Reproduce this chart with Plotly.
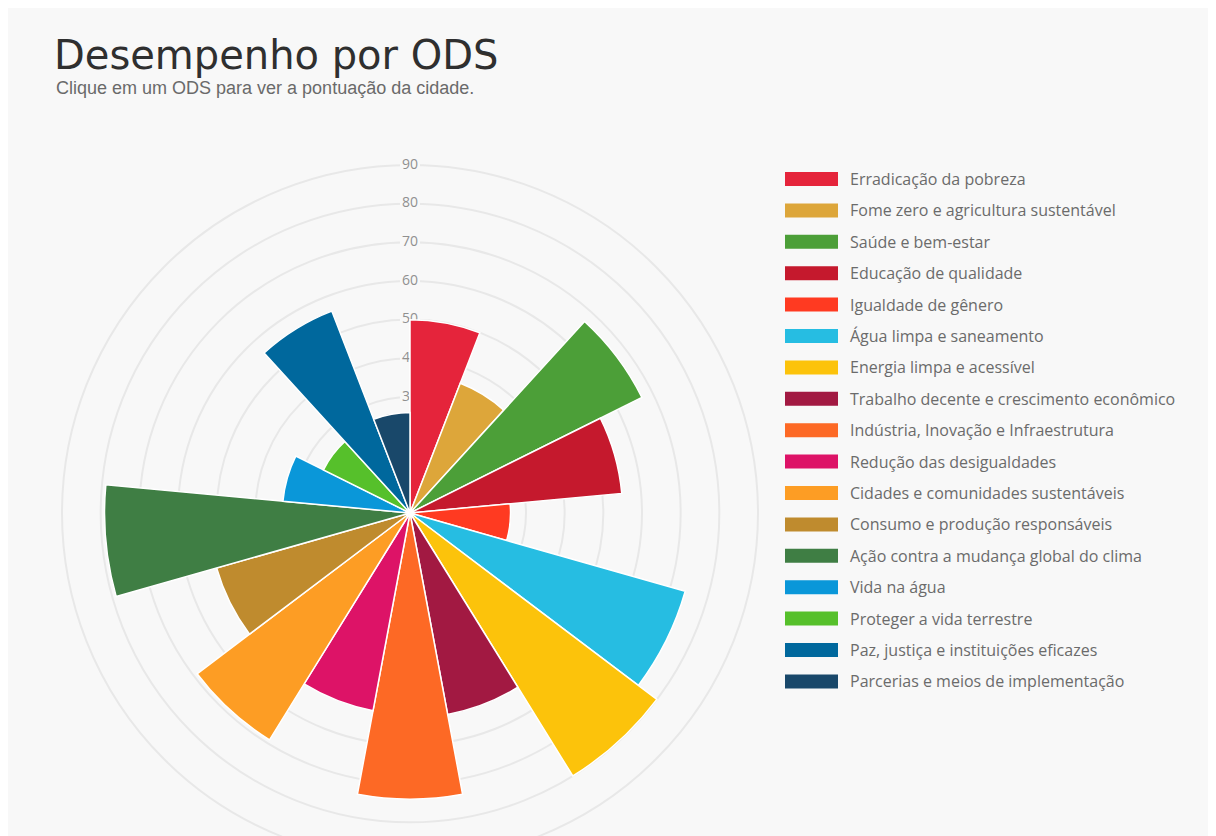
import plotly.graph_objects as go

# ---- data ----
ods_names = [
    "Erradicação da pobreza",
    "Fome zero e agricultura sustentável",
    "Saúde e bem-estar",
    "Educação de qualidade",
    "Igualdade de gênero",
    "Água limpa e saneamento",
    "Energia limpa e acessível",
    "Trabalho decente e crescimento econômico",
    "Indústria, Inovação e Infraestrutura",
    "Redução das desigualdades",
    "Cidades e comunidades sustentáveis",
    "Consumo e produção responsáveis",
    "Ação contra a mudança global do clima",
    "Vida na água",
    "Proteger a vida terrestre",
    "Paz, justiça e instituições eficazes",
    "Parcerias e meios de implementação",
]
ods_scores = [50, 36, 67, 55, 26, 74, 80, 53, 74, 52, 69, 52, 79, 33, 25, 56, 26]
ods_colors = [
    "#E5243B", "#DDA63A", "#4C9F38", "#C5192D", "#FF3A21", "#26BDE2",
    "#FCC30B", "#A21942", "#FD6925", "#DD1367", "#FD9D24", "#BF8B2E",
    "#3F7E44", "#0A97D9", "#56C02B", "#00689D", "#19486A",
]
radial_ticks = [10, 20, 30, 40, 50, 60, 70, 80, 90]
title_text = "Desempenho por ODS"
subtitle_text = "Clique em um ODS para ver a pontuação da cidade."

W, H = 1216, 900
BG = "#f8f8f8"
GRID = "#e8e8e8"

n = len(ods_scores)
step = 360.0 / n

fig = go.Figure()

# radial tick labels in the lower polar subplot (so bars cover them)
fig.add_trace(go.Scatterpolar(
    r=radial_ticks, theta=[0] * len(radial_ticks), mode="markers+text",
    text=[str(t) for t in radial_ticks],
    marker=dict(symbol="square", size=20, color=BG),
    textfont=dict(family="Open Sans, sans-serif", size=14, color="#909090"),
    textposition="middle center", hoverinfo="skip", showlegend=False,
    cliponaxis=False, subplot="polar",
))

for i in range(n):
    fig.add_trace(go.Barpolar(
        r=[ods_scores[i]], theta=[(i + 0.5) * step], width=[step],
        name=ods_names[i],
        marker=dict(color=ods_colors[i], line=dict(color="white", width=1.5)),
        showlegend=False, subplot="polar2",
        hovertemplate=ods_names[i] + ": %{r}<extra></extra>",
    ))

# polar placement (figure pixels -> paper)
cx, cy, R = 402, 505, 348
dom = dict(x=[(cx - R) / W, (cx + R) / W], y=[1 - (cy + R) / H, 1 - (cy - R) / H])

fig.update_layout(
    width=W, height=H,
    margin=dict(l=0, r=0, t=0, b=0),
    paper_bgcolor=BG, plot_bgcolor=BG,
    showlegend=False,
    polar=dict(
        domain=dom, bgcolor=BG,
        radialaxis=dict(range=[0, 90], tickvals=radial_ticks, showticklabels=False, ticks="",
                        showline=False, gridcolor=GRID, gridwidth=2, layer="below traces"),
        angularaxis=dict(rotation=90, direction="clockwise", showticklabels=False, ticks="",
                         showgrid=False, showline=True, linecolor=GRID, linewidth=2,
                         layer="below traces"),
    ),
    polar2=dict(
        domain=dom, bgcolor="rgba(0,0,0,0)", bargap=0,
        radialaxis=dict(range=[0, 90], showticklabels=False, ticks="", showline=False, showgrid=False),
        angularaxis=dict(rotation=90, direction="clockwise", showticklabels=False, ticks="",
                         showgrid=False, showline=False),
    ),
)

# titles
fig.add_annotation(x=44 / W, y=1 - 47 / H, xref="paper", yref="paper", xanchor="left", yanchor="middle",
                   text=title_text, showarrow=False,
                   font=dict(family="DejaVu Sans, sans-serif", size=40, color="#2f2f2f"))
fig.add_annotation(x=46 / W, y=1 - 80 / H, xref="paper", yref="paper", xanchor="left", yanchor="middle",
                   text=subtitle_text, showarrow=False,
                   font=dict(family="Liberation Sans, Arial, sans-serif", size=18, color="#6a6a6a"))

# custom legend (wide colour swatches)
lx0, lx1, ly0, ldy, lh = 777, 830, 171, 31.4, 14
for i in range(n):
    yc = ly0 + i * ldy
    fig.add_shape(type="rect", xref="paper", yref="paper",
                  x0=lx0 / W, x1=lx1 / W, y0=1 - (yc + lh / 2) / H, y1=1 - (yc - lh / 2) / H,
                  fillcolor=ods_colors[i], line=dict(width=0))
    fig.add_annotation(x=840 / W, y=1 - yc / H, xref="paper", yref="paper", xanchor="left", yanchor="middle",
                       text=ods_names[i], showarrow=False,
                       font=dict(family="Open Sans, sans-serif", size=16, color="#6b6b6b"))

fig.write_html("out.html")
